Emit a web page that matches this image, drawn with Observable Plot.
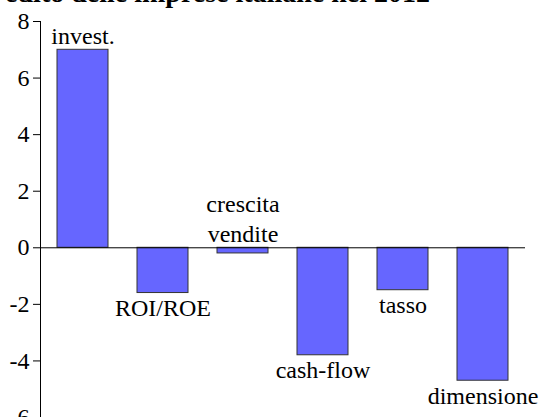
<!DOCTYPE html>
<html><head><meta charset="utf-8">
<script src="https://cdn.jsdelivr.net/npm/d3@7"></script>
<script src="https://cdn.jsdelivr.net/npm/@observablehq/plot@0.6"></script>
<style>
body{margin:0;background:#fff;overflow:hidden}
#wrap{position:relative;width:541px;height:417px;overflow:hidden}
#title{position:absolute;right:111px;top:-21px;font-family:"Liberation Serif","Times New Roman",serif;font-weight:bold;font-size:28px;line-height:1;white-space:nowrap;z-index:2}
#chart{position:absolute;left:0;top:0}
#chart svg, #chart svg text, #chart svg g {font-family:"Liberation Serif","Times New Roman",serif !important; font-size:24px !important;}
</style></head><body>
<div id="wrap"><div id="title">edito delle imprese italiane nel 2012</div><div id="chart"></div></div>
<script>
const categories = ["invest.", "ROI/ROE", "crescita\nvendite", "cash-flow", "tasso", "dimensione"];
const values = [7, -1.6, -0.2, -3.8, -1.5, -4.7];
const yTicks = [-6, -4, -2, 0, 2, 4, 6, 8];

const data = categories.map((c, i) => ({c, v: values[i]}));
const above = data.filter(d => d.v > -0.5);
const below = data.filter(d => d.v <= -0.5);

const chart = Plot.plot({
  width: 541, height: 417,
  marginLeft: 40, marginRight: 16, marginTop: 21, marginBottom: 0,
  style: {background: "transparent", overflow: "visible", color: "#000"},
  x: {domain: categories, paddingInner: 0.36, paddingOuter: 0.18, axis: null},
  y: {domain: [-6, 8], ticks: yTicks, tickSize: 7, tickPadding: 4, label: null, tickFormat: d => String(d)},
  marks: [
    Plot.frame({anchor: "left", stroke: "#000"}),
    Plot.barY(data, {x: "c", y: "v", fill: "#6666ff", stroke: "#333", strokeWidth: 1}),
    Plot.ruleY([0], {stroke: "#000"}),
    Plot.text(above, {x: "c", y: d => Math.max(d.v, 0), text: "c", lineAnchor: "bottom", dy: -6, lineHeight: 1.25, fill: "#000"}),
    Plot.text(below, {x: "c", y: "v", text: "c", lineAnchor: "top", dy: 6, fill: "#000"})
  ]
});
document.getElementById("chart").appendChild(chart);
</script>
</body></html>
